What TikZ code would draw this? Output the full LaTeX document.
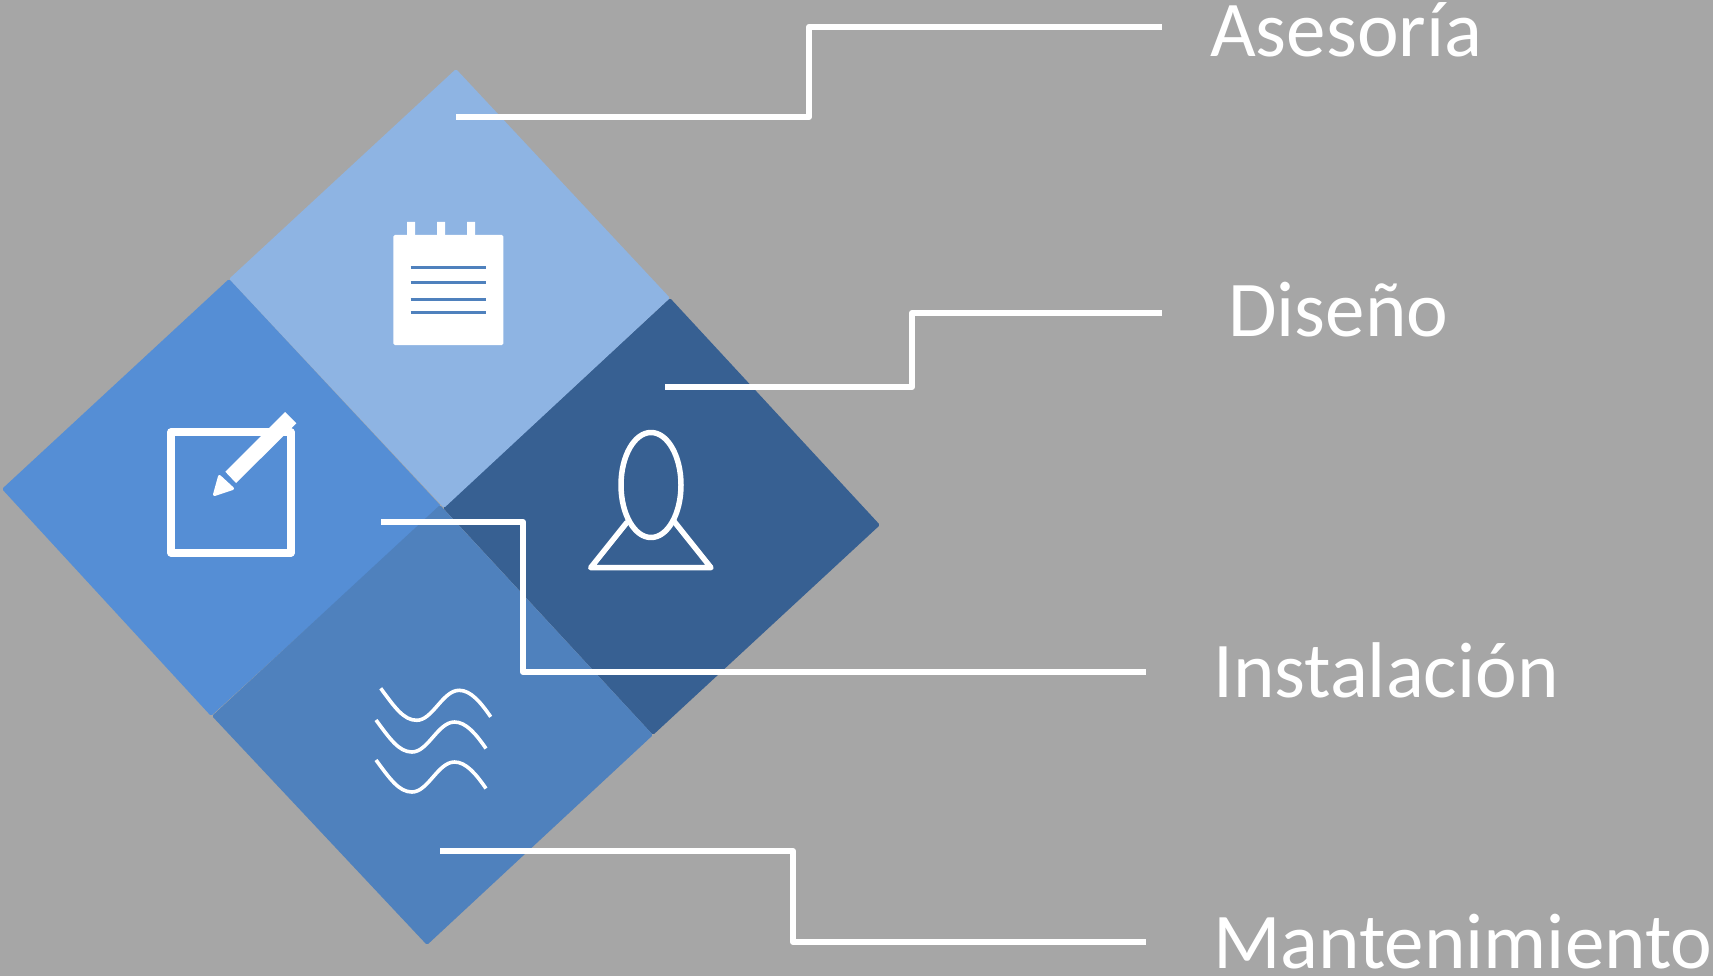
\documentclass[tikz,border=0pt]{standalone}
\usepackage{fontspec}
\setmainfont{Carlito}
\definecolor{bgc}{HTML}{A6A6A6}
\definecolor{lightc}{HTML}{8EB4E3}
\definecolor{leftc}{HTML}{558ED5}
\definecolor{darkc}{HTML}{376092}
\definecolor{lowc}{HTML}{4F81BD}
\tikzset{
  tile/.style={rounded corners=1.5pt},
  leader/.style={draw=white,line width=6.2pt,line join=round},
  iconline/.style={draw=white,line join=round,line cap=round},
  label/.style={anchor=base west,inner sep=0pt,text=white,font=\fontsize{79}{96}\selectfont},
}
\begin{document}
\begin{tikzpicture}[x=1pt,y=-1pt]
\useasboundingbox (0,0) rectangle (1713,976);
\fill[bgc] (0,0) rectangle (1713,976);
% tiles
\fill[darkc,tile] (670,298) -- (880,525) -- (653,735) -- (443,508) -- cycle;
\fill[lightc,tile] (456,69) -- (670,298) -- (444,508) -- (229,279) -- cycle;
\fill[leftc,tile] (229,279) -- (441,506) -- (211,716) -- (2,489) -- cycle;
\fill[lowc,tile] (440,505) -- (653,735) -- (427,945) -- (212,716) -- cycle;
% notepad
\fill[white,rounded corners=1.5pt] (393.3,235) rectangle (503.3,345);
\fill[white] (407,222) rectangle (415,236) (437,222) rectangle (445,236) (467,222) rectangle (475,236);
\foreach \yy in {267.7,282.7,299.7,312.7}
  \draw[lowc,line width=2.8pt] (410.7,\yy) -- (485.7,\yy);
% edit icon
\draw[iconline,line width=8pt] (171,432.3) rectangle (290.7,552.7);
\fill[leftc] (268,436.3) -- (286.7,436.3) -- (286.7,441) -- (258,462) -- cycle;
\fill[white] (285,412) -- (296.3,423.3) -- (236,483) -- (225.3,471.7) -- cycle;
\filldraw[iconline,fill=white,line width=3pt] (219.5,476.5) -- (232.5,488.5) -- (214.5,494.5) -- cycle;
% person
\draw[iconline,line width=5.5pt] (651,485) ellipse [x radius=30,y radius=52.5];
\draw[iconline,line width=5.5pt] (626.7,522.7) -- (590.7,567.7) -- (711,567.7) -- (674.3,521.7);
% waves
\foreach \wx/\wy in {380.7/688.3,376/720,376/760}
  \draw[white,line width=3.6pt,shift={(\wx,\wy)}]
    (0,0) .. controls (14,19) and (23,32) .. (36,32)
    .. controls (52,32) and (62,2) .. (78.5,2)
    .. controls (90,2) and (100,14) .. (110,28.5);
% labels
\node[label] (asesoria) at (1210,57) {Asesoría};
\node[label] (diseno) at (1228,336) {Diseño};
\node[label] (instalacion) at (1213,697) {Instalación};
\node[label] (mantenimiento) at (1213,968) {Mantenimiento};
% connector ends
\coordinate (a0) at (456,117);
\coordinate (a1) at (1162,27);
\coordinate (d0) at (665,387);
\coordinate (d1) at (1162,313);
\coordinate (i0) at (381,522);
\coordinate (i1) at (1146,672);
\coordinate (m0) at (440,851);
\coordinate (m1) at (1146,942);
\draw[leader] (a0) -- (809,117) -- (809,27) -- (a1);
\draw[leader] (d0) -- (912,387) -- (912,313) -- (d1);
\draw[leader] (i0) -- (523,522) -- (523,672) -- (i1);
\draw[leader] (m0) -- (793,851) -- (793,942) -- (m1);
\end{tikzpicture}
\end{document}
